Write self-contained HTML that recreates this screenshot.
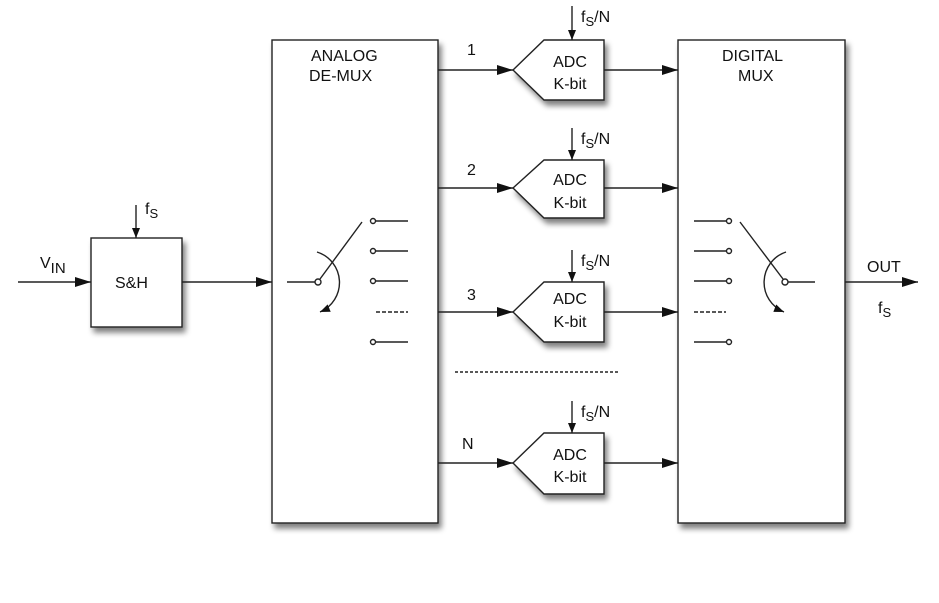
<!DOCTYPE html>
<html><head><style>body{margin:0;background:#fff}svg{display:block}text{font-family:"Liberation Sans",sans-serif;fill:#111}</style></head><body>
<svg width="939" height="603" viewBox="0 0 939 603">
<defs>
<filter id="sh" x="-20%" y="-20%" width="150%" height="150%"><feGaussianBlur in="SourceAlpha" stdDeviation="3"/><feOffset dx="3" dy="5"/><feComponentTransfer><feFuncA type="linear" slope="0.5"/></feComponentTransfer><feMerge><feMergeNode/><feMergeNode in="SourceGraphic"/></feMerge></filter>
<marker id="a" markerWidth="10" markerHeight="8" refX="10" refY="4" orient="auto" markerUnits="userSpaceOnUse"><path d="M0,0 L10,4 L0,8 Z" fill="#111"/></marker>
<marker id="b" markerWidth="16" markerHeight="10" refX="16" refY="5" orient="auto" markerUnits="userSpaceOnUse"><path d="M0,0 L16,5 L0,10 Z" fill="#111"/></marker>
</defs>
<g stroke="#222" stroke-width="1.4" fill="#fff">
<rect x="272" y="40" width="166" height="483" filter="url(#sh)"/>
<rect x="678" y="40" width="167" height="483" filter="url(#sh)"/>
<rect x="91" y="238" width="91" height="89" filter="url(#sh)"/>
<path d="M513,70 L544,40 L604,40 L604,100 L544,100 Z" filter="url(#sh)"/>
<path d="M513,188 L544,160 L604,160 L604,218 L544,218 Z" filter="url(#sh)"/>
<path d="M513,312 L544,282 L604,282 L604,342 L544,342 Z" filter="url(#sh)"/>
<path d="M513,463 L544,433 L604,433 L604,494 L544,494 Z" filter="url(#sh)"/>
</g>
<g stroke="#222" stroke-width="1.4" fill="none">
<line x1="18" y1="282" x2="91" y2="282" marker-end="url(#b)"/>
<line x1="182" y1="282" x2="272" y2="282" marker-end="url(#b)"/>
<line x1="136" y1="205" x2="136" y2="238" marker-end="url(#a)"/>
<line x1="438" y1="70" x2="513" y2="70" marker-end="url(#b)"/>
<line x1="438" y1="188" x2="513" y2="188" marker-end="url(#b)"/>
<line x1="438" y1="312" x2="513" y2="312" marker-end="url(#b)"/>
<line x1="438" y1="463" x2="513" y2="463" marker-end="url(#b)"/>
<line x1="604" y1="70" x2="678" y2="70" marker-end="url(#b)"/>
<line x1="604" y1="188" x2="678" y2="188" marker-end="url(#b)"/>
<line x1="604" y1="312" x2="678" y2="312" marker-end="url(#b)"/>
<line x1="604" y1="463" x2="678" y2="463" marker-end="url(#b)"/>
<line x1="572" y1="6" x2="572" y2="40" marker-end="url(#a)"/>
<line x1="572" y1="128" x2="572" y2="160" marker-end="url(#a)"/>
<line x1="572" y1="250" x2="572" y2="282" marker-end="url(#a)"/>
<line x1="572" y1="401" x2="572" y2="433" marker-end="url(#a)"/>
<line x1="845" y1="282" x2="918" y2="282" marker-end="url(#b)"/>
<line x1="455" y1="372" x2="618" y2="372" stroke-dasharray="3,2"/>
<line x1="287" y1="282" x2="315" y2="282"/>
<circle cx="318" cy="282" r="3"/>
<line x1="320" y1="279" x2="362" y2="222"/>
<g><circle cx="373" cy="221" r="2.5"/><line x1="376" y1="221" x2="408" y2="221"/>
<circle cx="373" cy="251" r="2.5"/><line x1="376" y1="251" x2="408" y2="251"/>
<circle cx="373" cy="281" r="2.5"/><line x1="376" y1="281" x2="408" y2="281"/>
<line x1="376" y1="312" x2="408" y2="312" stroke-dasharray="4,2"/>
<circle cx="373" cy="342" r="2.5"/><line x1="376" y1="342" x2="408" y2="342"/></g>
<path d="M317,252 A32,32 0 0 1 320,312" marker-end="url(#a)"/>
<g><line x1="694" y1="221" x2="726" y2="221"/><circle cx="729" cy="221" r="2.5"/>
<line x1="694" y1="251" x2="726" y2="251"/><circle cx="729" cy="251" r="2.5"/>
<line x1="694" y1="281" x2="726" y2="281"/><circle cx="729" cy="281" r="2.5"/>
<line x1="694" y1="312" x2="726" y2="312" stroke-dasharray="4,2"/>
<line x1="694" y1="342" x2="726" y2="342"/><circle cx="729" cy="342" r="2.5"/></g>
<circle cx="785" cy="282" r="3"/>
<line x1="788" y1="282" x2="815" y2="282"/>
<line x1="740" y1="222" x2="783" y2="279"/>
<path d="M786,252 A32,32 0 0 0 784,312" marker-end="url(#a)"/>
</g>
<g font-size="16">
<text x="311" y="61">ANALOG</text><text x="309" y="81">DE-MUX</text>
<text x="722" y="61">DIGITAL</text><text x="738" y="81">MUX</text>
<text x="115" y="288">S&amp;H</text>
<text x="867" y="272">OUT</text>
<text x="40" y="268">V<tspan font-size="15" dy="5">IN</tspan></text>
<text x="145" y="214">f<tspan font-size="13" dy="4">S</tspan></text>
<text x="878" y="313">f<tspan font-size="13" dy="4">S</tspan></text>
<text x="467" y="55">1</text><text x="467" y="175">2</text><text x="467" y="300">3</text><text x="462" y="449">N</text>
<g text-anchor="middle"><text x="570" y="67">ADC</text><text x="570" y="89">K-bit</text>
<text x="570" y="185">ADC</text><text x="570" y="208">K-bit</text>
<text x="570" y="304">ADC</text><text x="570" y="327">K-bit</text>
<text x="570" y="460">ADC</text><text x="570" y="482">K-bit</text></g>
<text x="581" y="22">f<tspan font-size="13" dy="4">S</tspan><tspan dy="-4">/N</tspan></text>
<text x="581" y="144">f<tspan font-size="13" dy="4">S</tspan><tspan dy="-4">/N</tspan></text>
<text x="581" y="266">f<tspan font-size="13" dy="4">S</tspan><tspan dy="-4">/N</tspan></text>
<text x="581" y="417">f<tspan font-size="13" dy="4">S</tspan><tspan dy="-4">/N</tspan></text>
</g>
</svg>
</body></html>
